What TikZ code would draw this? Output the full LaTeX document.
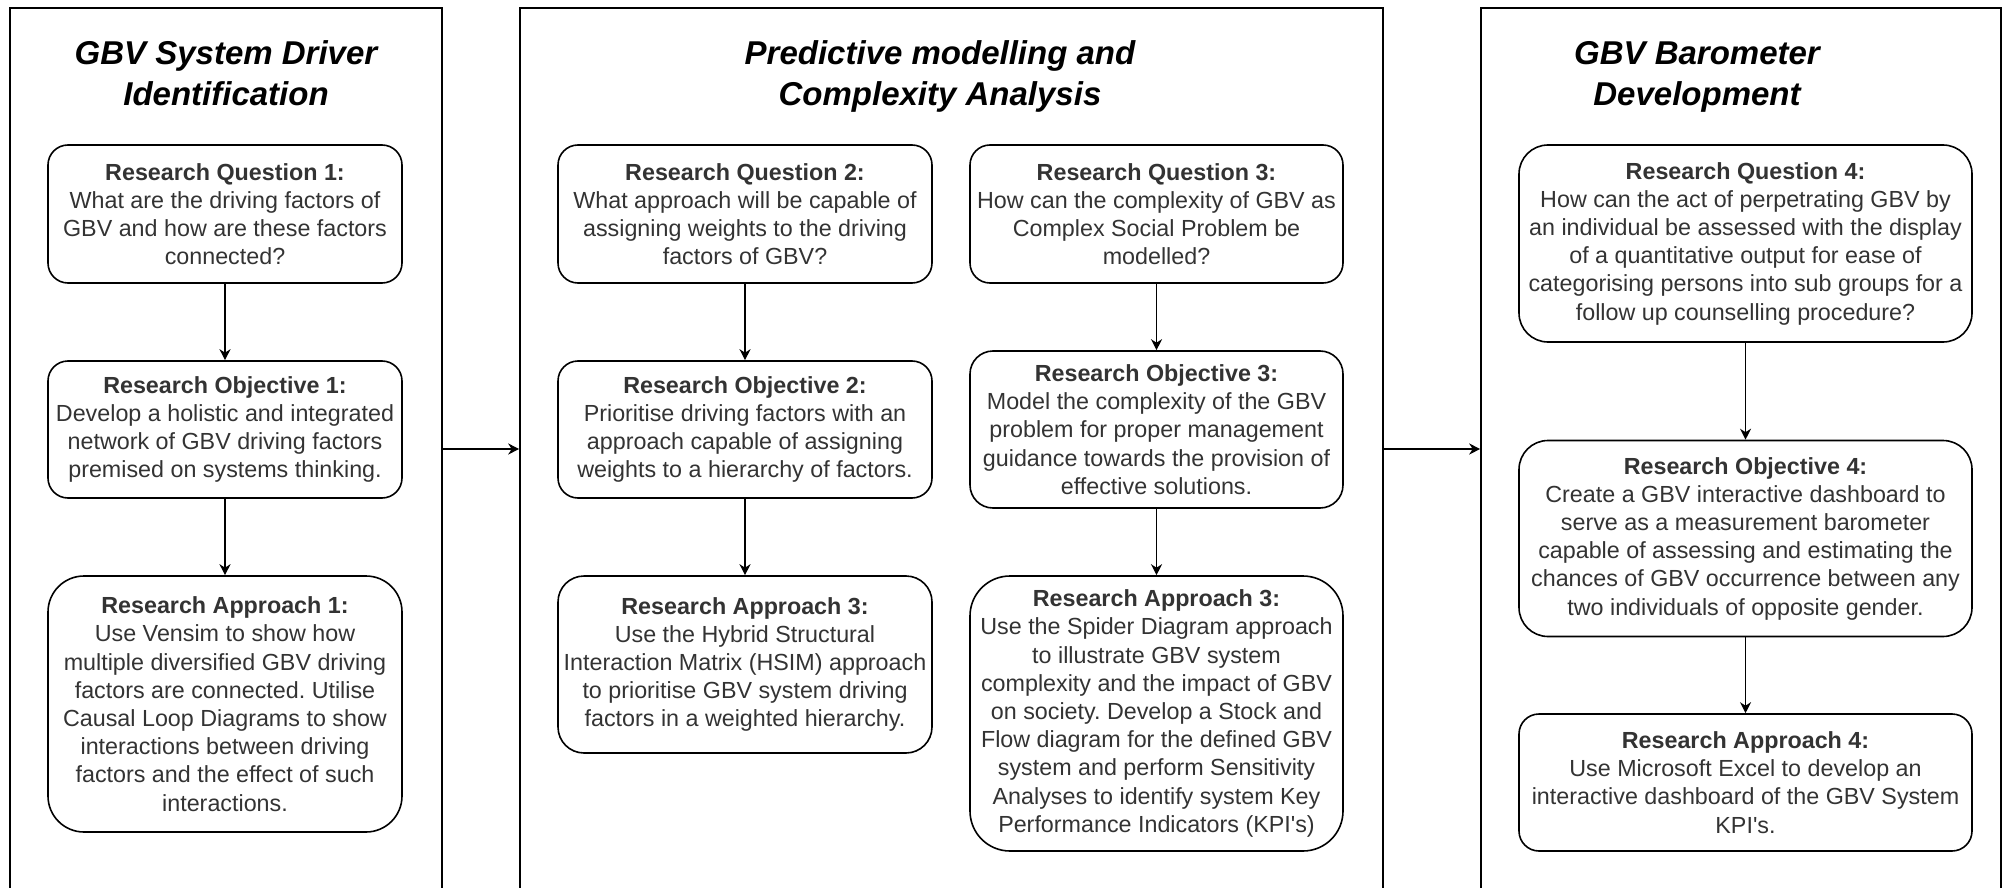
\documentclass[tikz,border=0pt]{standalone}
\usepackage{fontspec}
\setmainfont{Liberation Sans}
\usetikzlibrary{arrows.meta}
\frenchspacing
\definecolor{txt}{HTML}{333333}
\tikzset{
  panel/.style={draw=black, line width=1.6pt, inner sep=0pt},
  card/.style={draw=black, line width=1.6pt, fill=white, align=center, text=txt,
    inner sep=0pt, font=\fontsize{23.3}{28.2}\selectfont},
  ttl/.style={anchor=base, text=black, inner sep=0pt,
    font=\fontsize{33}{40}\selectfont\bfseries\itshape},
  flow/.style={draw=black, line width=1.5pt, -{Stealth[length=11pt,width=11pt,inset=3.5pt]}},
}
\begin{document}
\begin{tikzpicture}[x=1pt, y=-1pt]
  \useasboundingbox (0,0) rectangle (2014,888);
  \fill[white] (0,0) rectangle (2014,888);
  \clip (0,0) rectangle (2014,888);

  % three stage panels, open at the bottom edge
  \node[panel, minimum width=432pt, minimum height=882pt] (p1) at (226,449) {};
  \node[panel, minimum width=863pt, minimum height=882pt] (p2) at (951.5,449) {};
  \node[panel, minimum width=520pt, minimum height=882pt] (p3) at (1741,449) {};

  % panel headings
  \node[ttl] (t1a) at (226,65) {GBV System Driver};
  \node[ttl] (t1b) at (226,106) {Identification};
  \node[ttl] (t2a) at (940,65) {Predictive modelling and};
  \node[ttl] (t2b) at (940,106) {Complexity Analysis};
  \node[ttl] (t3a) at (1697,65) {GBV Barometer};
  \node[ttl] (t3b) at (1697,106) {Development};

  % stage 1
  \node[card, minimum width=354pt, minimum height=138pt, rounded corners=20pt] (rq1) at (225,214)
    {\textbf{Research Question 1:}\\What are the driving factors of\\GBV and how are these factors\\connected?};
  \node[card, minimum width=354pt, minimum height=137pt, rounded corners=20pt] (ro1) at (225,429.5)
    {\textbf{Research Objective 1:}\\Develop a holistic and integrated\\network of GBV driving factors\\premised on systems thinking.};
  \node[card, minimum width=354pt, minimum height=256pt, rounded corners=36pt] (ra1) at (225,704)
    {\textbf{Research Approach 1:}\\Use Vensim to show how\\multiple diversified GBV driving\\factors are connected. Utilise\\Causal Loop Diagrams to show\\interactions between driving\\factors and the effect of such\\interactions.};

  % stage 2, left column
  \node[card, minimum width=374pt, minimum height=138pt, rounded corners=20pt] (rq2) at (745,214)
    {\textbf{Research Question 2:}\\What approach will be capable of\\assigning weights to the driving\\factors of GBV?};
  \node[card, minimum width=374pt, minimum height=137pt, rounded corners=20pt] (ro2) at (745,429.5)
    {\textbf{Research Objective 2:}\\Prioritise driving factors with an\\approach capable of assigning\\weights to a hierarchy of factors.};
  \node[card, minimum width=374pt, minimum height=177pt, rounded corners=26pt] (ra2) at (745,664.5)
    {\textbf{Research Approach 3:}\\Use the Hybrid Structural\\Interaction Matrix (HSIM) approach\\to prioritise GBV system driving\\factors in a weighted hierarchy.};

  % stage 2, right column
  \node[card, minimum width=373pt, minimum height=138pt, rounded corners=20pt] (rq3) at (1156.5,214)
    {\textbf{Research Question 3:}\\How can the complexity of GBV as\\Complex Social Problem be\\modelled?};
  \node[card, minimum width=373pt, minimum height=157pt, rounded corners=23pt] (ro3) at (1156.5,429.5)
    {\textbf{Research Objective 3:}\\Model the complexity of the GBV\\problem for proper management\\guidance towards the provision of\\effective solutions.};
  \node[card, minimum width=373pt, minimum height=275pt, rounded corners=40pt] (ra3) at (1156.5,713.5)
    {\textbf{Research Approach 3:}\\Use the Spider Diagram approach\\to illustrate GBV system\\complexity and the impact of GBV\\on society. Develop a Stock and\\Flow diagram for the defined GBV\\system and perform Sensitivity\\Analyses to identify system Key\\Performance Indicators (KPI\textquotesingle s)};

  % stage 3
  \node[card, minimum width=453pt, minimum height=197pt, rounded corners=29pt] (rq4) at (1745.5,243.5)
    {\textbf{Research Question 4:}\\How can the act of perpetrating GBV by\\an individual be assessed with the display\\of a quantitative output for ease of\\categorising persons into sub groups for a\\follow up counselling procedure?};
  \node[card, minimum width=453pt, minimum height=196pt, rounded corners=29pt] (ro4) at (1745.5,538.5)
    {\textbf{Research Objective 4:}\\Create a GBV interactive dashboard to\\serve as a measurement barometer\\capable of assessing and estimating the\\chances of GBV occurrence between any\\two individuals of opposite gender.};
  \node[card, minimum width=453pt, minimum height=137pt, rounded corners=20pt] (ra4) at (1745.5,782.5)
    {\textbf{Research Approach 4:}\\Use Microsoft Excel to develop an\\interactive dashboard of the GBV System\\KPI\textquotesingle s.};

  % flow within each stage
  \draw[flow] (rq1) -- (ro1);
  \draw[flow] (ro1) -- (ra1);
  \draw[flow] (rq2) -- (ro2);
  \draw[flow] (ro2) -- (ra2);
  \draw[flow] (rq3) -- (ro3);
  \draw[flow] (ro3) -- (ra3);
  \draw[flow] (rq4) -- (ro4);
  \draw[flow] (ro4) -- (ra4);

  % flow between stages
  \draw[flow] (p1) -- (p2);
  \draw[flow] (p2) -- (p3);
\end{tikzpicture}
\end{document}
